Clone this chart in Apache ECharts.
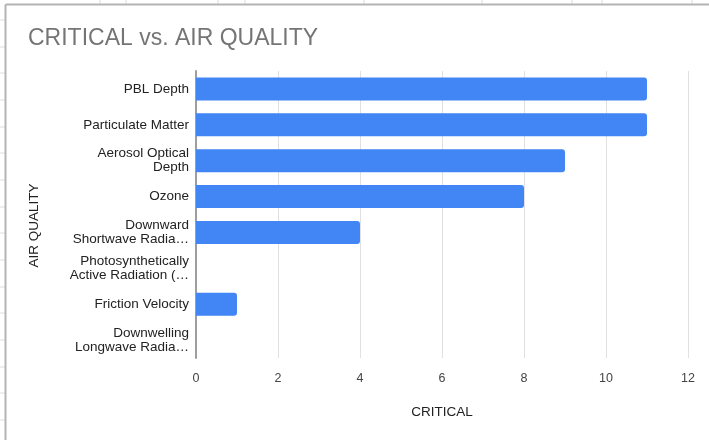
<!DOCTYPE html>
<html>
<head>
<meta charset="utf-8">
<script src="https://cdn.jsdelivr.net/npm/echarts@6/dist/echarts.min.js"></script>
<style>
html,body{margin:0;padding:0;background:#fff;}
#chart{width:709px;height:440px;}
</style>
</head>
<body>
<div id="chart"></div>
<script>
var titleText = 'CRITICAL vs. AIR QUALITY';
var categories = [
  'PBL Depth',
  'Particulate Matter',
  'Aerosol Optical\nDepth',
  'Ozone',
  'Downward\nShortwave Radia\u2026',
  'Photosynthetically\nActive Radiation (\u2026',
  'Friction Velocity',
  'Downwelling\nLongwave Radia\u2026'
];
var criticalValues = [11, 11, 9, 8, 4, 0, 1, 0];
var xTicks = [0, 2, 4, 6, 8, 10, 12];
var xAxisName = 'CRITICAL';
var yAxisName = 'AIR QUALITY';

var FONT = 'Liberation Sans, Arial, sans-serif';
var chart = echarts.init(document.getElementById('chart'), null, {renderer: 'canvas'});

// spreadsheet background decorations (cell grid marks outside the chart frame)
var deco = [];
var colMarks = [100, 126, 218, 245, 364, 482, 572, 602, 692];
colMarks.forEach(function (x) {
  deco.push({type: 'line', shape: {x1: x, y1: 0, x2: x, y2: 4}, style: {stroke: '#dcdcdc', lineWidth: 1}, silent: true});
});
var rowMarks = [20, 47, 73, 100, 127, 153, 180, 207, 233, 260, 287, 313, 340, 367, 393, 420];
rowMarks.forEach(function (y) {
  deco.push({type: 'line', shape: {x1: 0, y1: y, x2: 5, y2: y}, style: {stroke: '#dcdcdc', lineWidth: 1}, silent: true});
});
deco.push({type: 'line', shape: {x1: 5.5, y1: 4.5, x2: 709, y2: 4.5}, style: {stroke: '#b4b4b4', lineWidth: 2}, silent: true});
deco.push({type: 'line', shape: {x1: 5.5, y1: 4.5, x2: 5.5, y2: 440}, style: {stroke: '#b4b4b4', lineWidth: 2}, silent: true});

var option = {
  backgroundColor: '#ffffff',
  animation: false,
  title: {
    text: titleText,
    left: 28,
    top: 27,
    padding: 0,
    textStyle: {fontFamily: FONT, fontSize: 23, fontWeight: 'normal', color: '#757575'}
  },
  graphic: deco,
  grid: {left: 196, right: 21, top: 71, bottom: 82, containLabel: false},
  xAxis: {
    type: 'value',
    min: 0,
    max: 12,
    interval: 2,
    name: xAxisName,
    nameLocation: 'middle',
    nameGap: 47,
    nameTextStyle: {fontFamily: FONT, fontSize: 13.5, color: '#222'},
    axisLine: {show: false},
    axisTick: {show: false},
    axisLabel: {
      fontFamily: FONT, fontSize: 12.5, color: '#444', margin: 14,
      formatter: function (v) { return xTicks.indexOf(v) >= 0 ? String(v) : ''; }
    },
    splitLine: {show: true, lineStyle: {color: '#e0e0e0', width: 1}}
  },
  yAxis: {
    type: 'category',
    data: categories,
    inverse: true,
    name: yAxisName,
    nameLocation: 'middle',
    nameGap: 155,
    nameRotate: 90,
    nameTextStyle: {fontFamily: FONT, fontSize: 13.5, color: '#222', padding: [0, 22, 0, 0]},
    axisLine: {show: true, lineStyle: {color: '#9e9e9e', width: 2}},
    axisTick: {show: false},
    axisLabel: {
      fontFamily: FONT, fontSize: 13.5, color: '#222', margin: 7,
      lineHeight: 14, align: 'right'
    },
    splitLine: {show: false}
  },
  series: [{
    type: 'bar',
    data: criticalValues,
    barCategoryGap: '36%',
    itemStyle: {color: '#4285f4', borderRadius: [0, 3, 3, 0]}
  }]
};
chart.setOption(option);
</script>
</body>
</html>
